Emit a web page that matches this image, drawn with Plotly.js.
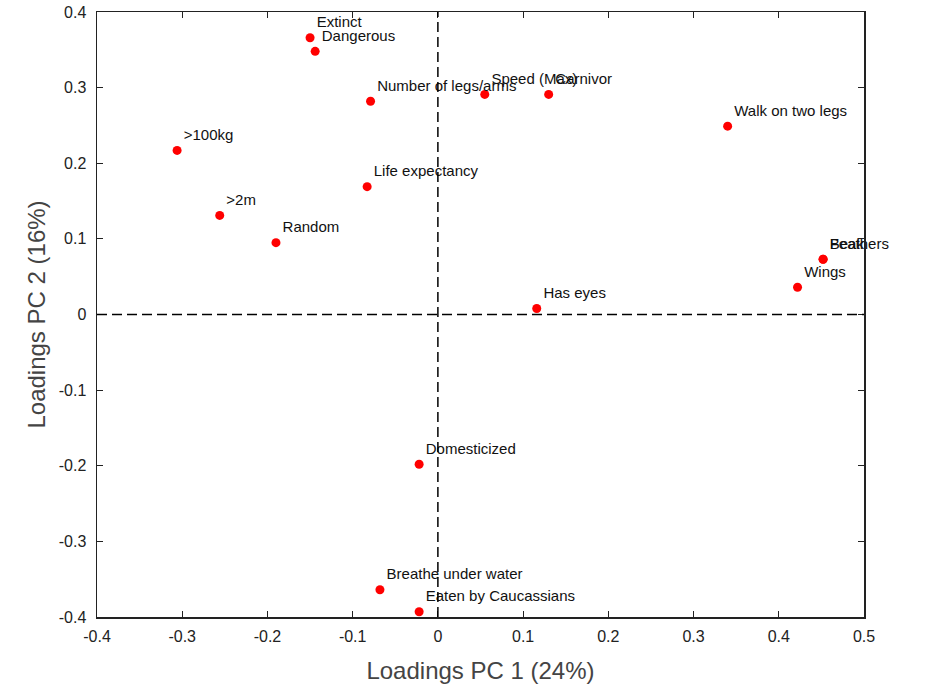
<!DOCTYPE html>
<html>
<head>
<meta charset="utf-8">
<script src="https://cdn.plot.ly/plotly-3.0.1.min.js"></script>
<style>html,body{margin:0;padding:0;background:#fff;}#chart{width:930px;height:691px;}</style>
</head>
<body>
<div id="chart"></div>
<script>
var labels = ["Extinct","Dangerous","Number of legs/arms","Speed (Max)","Carnivor","Walk on two legs",">100kg","Life expectancy",">2m","Random","Feathers","Beak","Wings","Has eyes","Domesticized","Breathe under water","Eaten by Caucassians"];
var pc1 = [-0.150,-0.144,-0.079,0.055,0.130,0.340,-0.306,-0.083,-0.256,-0.190,0.452,0.452,0.422,0.116,-0.022,-0.068,-0.022];
var pc2 = [0.366,0.348,0.282,0.291,0.291,0.249,0.217,0.169,0.131,0.095,0.073,0.073,0.036,0.008,-0.198,-0.364,-0.393];
var xTickVals = [-0.4,-0.3,-0.2,-0.1,0,0.1,0.2,0.3,0.4,0.5];
var xTickText = ["-0.4","-0.3","-0.2","-0.1","0","0.1","0.2","0.3","0.4","0.5"];
var yTickVals = [-0.4,-0.3,-0.2,-0.1,0,0.1,0.2,0.3,0.4];
var yTickText = ["-0.4","-0.3","-0.2","-0.1","0","0.1","0.2","0.3","0.4"];

var FONT = "Liberation Sans, Arial, sans-serif";

var trace = {
  x: pc1, y: pc2, text: labels,
  type: "scatter", mode: "markers+text",
  textposition: "top right",
  textfont: {family: FONT, size: 15, color: "#111"},
  marker: {color: "#ff0000", size: 9},
  cliponaxis: false,
  hoverinfo: "x+y+text"
};

var axisCommon = {
  showgrid: false, zeroline: false, showline: true, mirror: "ticks",
  linecolor: "#222", linewidth: 1.5, ticks: "inside", ticklen: 6, tickwidth: 1.2, tickcolor: "#222",
  tickfont: {family: FONT, size: 16, color: "#222"}
};

var layout = {
  width: 930, height: 691,
  margin: {l: 97, r: 66, t: 12, b: 74},
  paper_bgcolor: "#fff", plot_bgcolor: "#fff",
  showlegend: false,
  xaxis: Object.assign({}, axisCommon, {
    range: [-0.4, 0.5], tickmode: "array", tickvals: xTickVals, ticktext: xTickText,
    ticklabelstandoff: 4,
    title: {text: "Loadings PC 1 (24%)", font: {family: FONT, size: 24, color: "#444"}, standoff: 18}
  }),
  yaxis: Object.assign({}, axisCommon, {
    range: [-0.4, 0.4], tickmode: "array", tickvals: yTickVals, ticktext: yTickText,
    ticklabelstandoff: 6,
    title: {text: "Loadings PC 2 (16%)", font: {family: FONT, size: 24, color: "#444"}, standoff: 6}
  }),
  shapes: [
    {type: "line", xref: "x", yref: "paper", x0: 0, x1: 0, y0: 0, y1: 1, line: {color: "#000", width: 1.5, dash: "10px,5px"}},
    {type: "line", xref: "paper", yref: "y", x0: 0, x1: 1, y0: 0, y1: 0, line: {color: "#000", width: 1.5, dash: "10px,5px"}}
  ]
};

Plotly.newPlot("chart", [trace], layout, {displayModeBar: false, staticPlot: true});
</script>
</body>
</html>
